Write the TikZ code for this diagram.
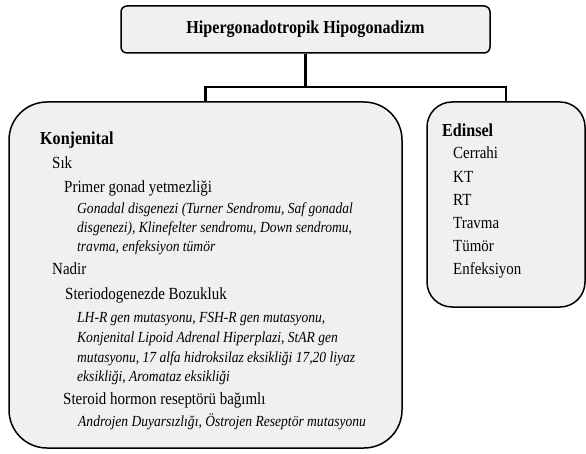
\documentclass[tikz,border=0pt]{standalone}
\usepackage{fontspec}
\setmainfont{Liberation Serif}[FakeStretch=0.88]
\begin{document}
\begin{tikzpicture}[x=1pt,y=-1pt,
  box/.style={draw, line width=1.5pt, fill=black!6},
  conn/.style={line width=2.2pt},
  head/.style={anchor=base west, inner sep=0pt, font=\fontsize{18.3}{21}\selectfont\bfseries},
  item/.style={anchor=base west, inner sep=0pt, font=\fontsize{17}{20}\selectfont},
  det/.style={anchor=base west, inner sep=0pt, font=\fontsize{15.4}{18}\selectfont\itshape}]
\useasboundingbox (0,0) rectangle (586,454);
% boxes
\node[box, rounded corners=6pt, minimum width=369pt, minimum height=47pt] (title) at (305.5,29.5) {};
\node[font=\fontsize{18.3}{21}\selectfont\bfseries, inner sep=0pt] (ttext) at (305.5,29.5) {Hipergonadotropik Hipogonadizm};
\node[box, rounded corners=38pt, minimum width=393pt, minimum height=346pt] (left) at (205.5,275) {};
\node[box, rounded corners=25pt, minimum width=158pt, minimum height=205pt] (right) at (506,204.5) {};
% connectors
\coordinate (j) at (305.5,87);
\draw[conn] (title.south) -- (j);
\draw[conn] (left.north) |- (j) -| (right.north);
% left texts
\node[head] (k1) at (40,145) {Konjenital};
\node[item] (k2) at (52,169) {Sık};
\node[item] (k3) at (64,193) {Primer gonad yetmezliği};
\node[det] (k4) at (77,214) {Gonadal disgenezi (Turner Sendromu, Saf gonadal};
\node[det] (k5) at (77,233) {disgenezi), Klinefelter sendromu, Down sendromu,};
\node[det] (k6) at (77,252) {travma, enfeksiyon tümör};
\node[item] (k7) at (52,275) {Nadir};
\node[item] (k8) at (65,299) {Steriodogenezde Bozukluk};
\node[det] (k9) at (77,322) {LH-R gen mutasyonu, FSH-R gen mutasyonu,};
\node[det] (k10) at (77,342) {Konjenital Lipoid Adrenal Hiperplazi, StAR gen};
\node[det] (k11) at (77,362) {mutasyonu, 17 alfa hidroksilaz eksikliği 17,20 liyaz};
\node[det] (k12) at (77,381) {eksikliği, Aromataz eksikliği};
\node[item] (k13) at (63,404) {Steroid hormon reseptörü bağımlı};
\node[det] (k14) at (78,426) {Androjen Duyarsızlığı, Östrojen Reseptör mutasyonu};
% right texts
\node[head] (e1) at (442,137) {Edinsel};
\node[item] (e2) at (453,159) {Cerrahi};
\node[item] (e3) at (453,183) {KT};
\node[item] (e4) at (453,206) {RT};
\node[item] (e5) at (453,229) {Travma};
\node[item] (e6) at (453,252) {Tümör};
\node[item] (e7) at (453,275) {Enfeksiyon};
\end{tikzpicture}
\end{document}
